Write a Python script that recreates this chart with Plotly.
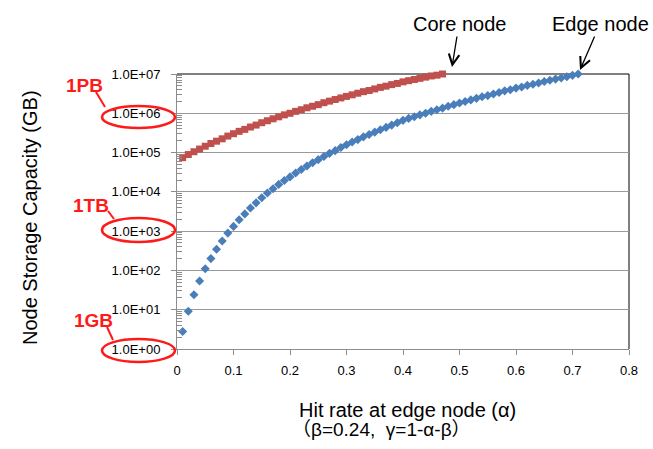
import plotly.graph_objects as go

# hit rate at edge node (alpha)
alpha_edge = [0.01, 0.02, 0.03, 0.04, 0.05, 0.06, 0.07, 0.08, 0.09, 0.10,
              0.11, 0.12, 0.13, 0.14, 0.15, 0.16, 0.17, 0.18, 0.19, 0.20,
              0.21, 0.22, 0.23, 0.24, 0.25, 0.26, 0.27, 0.28, 0.29, 0.30,
              0.31, 0.32, 0.33, 0.34, 0.35, 0.36, 0.37, 0.38, 0.39, 0.40,
              0.41, 0.42, 0.43, 0.44, 0.45, 0.46, 0.47, 0.48, 0.49, 0.50,
              0.51, 0.52, 0.53, 0.54, 0.55, 0.56, 0.57, 0.58, 0.59, 0.60,
              0.61, 0.62, 0.63, 0.64, 0.65, 0.66, 0.67, 0.68, 0.69, 0.70,
              0.71]
edge_capacity = [2.8, 9.1, 24, 54, 110, 200, 347, 562, 891, 1320,
                 1950, 2750, 3890, 5250, 7080, 9330, 12000, 15500, 19500, 24000,
                 30200, 37200, 45700, 55000, 66100, 79400, 95500, 112000, 135000, 158000,
                 186000, 214000, 251000, 288000, 331000, 380000, 437000, 501000, 575000, 661000,
                 741000, 813000, 912000, 1.00e6, 1.12e6, 1.23e6, 1.35e6, 1.51e6, 1.66e6, 1.82e6,
                 2.00e6, 2.19e6, 2.40e6, 2.63e6, 2.82e6, 3.09e6, 3.39e6, 3.72e6, 3.98e6, 4.37e6,
                 4.68e6, 5.13e6, 5.50e6, 5.89e6, 6.46e6, 6.92e6, 7.41e6, 7.94e6, 8.51e6, 9.23e6,
                 1.00e7]

alpha_core = [0.01, 0.02, 0.03, 0.04, 0.05, 0.06, 0.07, 0.08, 0.09, 0.10,
              0.11, 0.12, 0.13, 0.14, 0.15, 0.16, 0.17, 0.18, 0.19, 0.20,
              0.21, 0.22, 0.23, 0.24, 0.25, 0.26, 0.27, 0.28, 0.29, 0.30,
              0.31, 0.32, 0.33, 0.34, 0.35, 0.36, 0.37, 0.38, 0.39, 0.40,
              0.41, 0.42, 0.43, 0.44, 0.45, 0.46, 0.47]
core_capacity = [74100, 89100, 105000, 123000, 145000, 170000, 195000, 224000, 263000, 302000,
                 347000, 389000, 447000, 501000, 575000, 646000, 724000, 813000, 912000, 1.00e6,
                 1.12e6, 1.23e6, 1.38e6, 1.51e6, 1.66e6, 1.86e6, 2.04e6, 2.24e6, 2.46e6, 2.69e6,
                 2.95e6, 3.24e6, 3.55e6, 3.80e6, 4.17e6, 4.57e6, 4.90e6, 5.37e6, 5.75e6, 6.31e6,
                 6.76e6, 7.24e6, 7.76e6, 8.32e6, 8.91e6, 9.33e6, 1.00e7]

y_tickvals = [1, 10, 100, 1e3, 1e4, 1e5, 1e6, 1e7]
y_ticktext = ["1.0E+00", "1.0E+01", "1.0E+02", "1.0E+03",
              "1.0E+04", "1.0E+05", "1.0E+06", "1.0E+07"]
x_tickvals = [0, 0.1, 0.2, 0.3, 0.4, 0.5, 0.6, 0.7, 0.8]
x_ticktext = ["0", "0.1", "0.2", "0.3", "0.4", "0.5", "0.6", "0.7", "0.8"]

FONT = "Liberation Sans, Arial, Noto Sans CJK JP, sans-serif"
GRAY = "#8c8c8c"
RED = "#ff1a1a"

# plot area in pixels: left 177, right 629, top 74, bottom 349
L, R, T, B = 177, 629, 74, 349


def px(x):
    return (x - L) / (R - L)


def py(y):
    return (B - y) / (B - T)


minor_vals = [m * 10 ** e for e in range(0, 7) for m in range(2, 10)]

fig = go.Figure()

fig.add_trace(go.Scatter(
    x=alpha_edge, y=edge_capacity, mode="markers", name="Edge node",
    marker=dict(symbol="diamond", size=7, color="#4a7ebb"),
    cliponaxis=False
))
fig.add_trace(go.Scatter(
    x=alpha_core, y=core_capacity, mode="markers", name="Core node",
    marker=dict(symbol="square", size=7, color="#c0504d"),
    cliponaxis=False
))

shapes = [
    # black top and right border
    dict(type="line", xref="paper", yref="paper", x0=0, x1=1, y0=1, y1=1,
         line=dict(color="black", width=1), layer="between"),
    dict(type="line", xref="paper", yref="paper", x0=1, x1=1, y0=0, y1=1,
         line=dict(color="black", width=1), layer="between"),
]

# red ellipses round the tick labels + connector lines
for (ex0, ey0, ex1, ey1), (lx0, ly0, lx1, ly1) in [
    ((102, 106, 175, 128), (96, 92, 105, 107)),
    ((102, 218, 175, 242), (108, 211, 114, 219)),
    ((102, 339, 175, 362), (107, 327, 113, 340)),
]:
    shapes.append(dict(type="circle", xref="paper", yref="paper",
                       x0=px(ex0), x1=px(ex1), y0=py(ey1), y1=py(ey0),
                       line=dict(color=RED, width=2.6)))
    shapes.append(dict(type="line", xref="paper", yref="paper",
                       x0=px(lx0), x1=px(lx1), y0=py(ly0), y1=py(ly1),
                       line=dict(color=RED, width=2)))

annotations = []
for label, cx, cy in [("1PB", 84, 85), ("1TB", 91, 205), ("1GB", 93, 320)]:
    annotations.append(dict(text="<b>" + label + "</b>", xref="paper", yref="paper",
                            x=px(cx), y=py(cy), xanchor="center", yanchor="middle",
                            showarrow=False,
                            font=dict(family=FONT, size=19, color=RED)))

# arrows pointing at the curve ends
for label, tx, ty, lx, ly in [("Core node", 452, 67, 459, 24),
                              ("Edge node", 580, 70, 600, 24)]:
    annotations.append(dict(text=label, xref="paper", yref="paper",
                            x=px(tx), y=py(ty), ax=lx - tx, ay=ly - ty,
                            showarrow=True, arrowhead=5, arrowsize=1.6,
                            arrowwidth=1.3, arrowcolor="black",
                            font=dict(family=FONT, size=20, color="black")))

# axis titles
annotations.append(dict(text="Node Storage Capacity (GB)", xref="paper", yref="paper",
                        x=px(30), y=py(218), xanchor="center", yanchor="middle",
                        showarrow=False, textangle=-90,
                        font=dict(family=FONT, size=20, color="black")))
annotations.append(dict(text="Hit rate at edge node (α)", xref="paper", yref="paper",
                        x=px(297), y=py(410), xanchor="left", yanchor="middle",
                        showarrow=False,
                        font=dict(family=FONT, size=20, color="black")))
annotations.append(dict(text="（β=0.24,  γ=1-α-β）", xref="paper", yref="paper",
                        x=px(290), y=py(429), xanchor="left", yanchor="middle",
                        showarrow=False,
                        font=dict(family=FONT, size=19, color="black")))

fig.update_layout(
    width=653, height=449,
    margin=dict(l=L, r=653 - R, t=T, b=449 - B),
    paper_bgcolor="white", plot_bgcolor="white",
    showlegend=False,
    font=dict(family=FONT, color="black"),
    xaxis=dict(range=[0, 0.8], tickmode="array", tickvals=x_tickvals, ticktext=x_ticktext,
               showgrid=False, zeroline=False, showline=True, linecolor=GRAY, linewidth=1,
               ticks="outside", ticklen=5, tickcolor=GRAY, automargin=False,
               tickfont=dict(family=FONT, size=13, color="black"), ticklabelstandoff=4),
    yaxis=dict(type="log", range=[0, 7], tickmode="array", tickvals=y_tickvals, ticktext=y_ticktext,
               showgrid=True, gridcolor="#999999", gridwidth=1, zeroline=False,
               showline=True, linecolor=GRAY, linewidth=1, automargin=False,
               ticks="outside", ticklen=5, tickcolor=GRAY,
               minor=dict(tickvals=minor_vals, ticks="inside", ticklen=5, tickcolor=GRAY, showgrid=False),
               tickfont=dict(family=FONT, size=13, color="black"), ticklabelstandoff=8),
    shapes=shapes,
    annotations=annotations,
)

# the page body has a default 8px margin; drop it so the figure sits at (0, 0)
fig.write_html("out.html", config={"displayModeBar": False},
               post_script="document.body.style.margin = '0px';")
